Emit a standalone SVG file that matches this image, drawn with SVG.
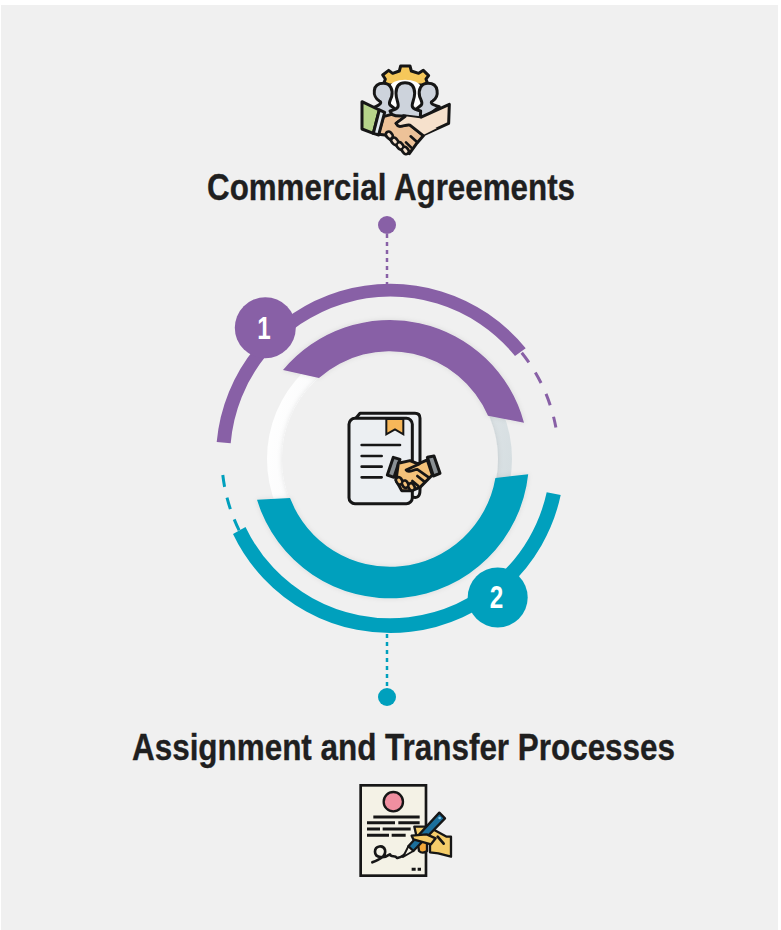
<svg xmlns="http://www.w3.org/2000/svg" width="781" height="930" viewBox="0 0 781 930">
<style>
.title{font-family:"Liberation Sans",Arial,sans-serif;font-weight:700;font-size:36px;fill:#1f1f1f;stroke:#1f1f1f;stroke-width:.35}
.num{font-family:"Liberation Sans",Arial,sans-serif;font-weight:700;font-size:31px;fill:#fff;text-anchor:middle}
.p{fill:#8860a6}.t{fill:#00a0bd}
.dashp{fill:none;stroke:#8860a6;stroke-width:3}
.dasht{fill:none;stroke:#00a0bd;stroke-width:3}
.dotp{fill:none;stroke:#8860a6;stroke-width:2.5}
.dott{fill:none;stroke:#00a0bd;stroke-width:2.5}
.k{stroke:#161616;stroke-width:9;stroke-linejoin:round;stroke-linecap:round}
.l{fill:none;stroke:#161616;stroke-width:8;stroke-linecap:round;stroke-linejoin:round}
.cap{fill:none;stroke:#161616;stroke-width:25;stroke-linecap:round}
</style>
<defs>
<linearGradient id="ring" x1="0" y1="0.3" x2="1" y2="0.5"><stop offset="0" stop-color="#ffffff"/><stop offset="0.45" stop-color="#f4f5f6"/><stop offset="1" stop-color="#d6dee1"/></linearGradient>
<filter id="soft" x="-20%" y="-20%" width="140%" height="140%"><feDropShadow dx="0" dy="0" stdDeviation="2.5" flood-color="#000" flood-opacity="0.1"/></filter>
</defs>
<rect width="781" height="930" fill="#ffffff"/>
<rect x="1" y="5" width="777" height="925" fill="#f0f0f0"/>

<g id="connectors">
<path class="dotp" stroke-dasharray="4 4" d="M387 234V284"/>
<path class="dott" stroke-dasharray="4 4" d="M387 634V688"/>
<path class="dashp" stroke-dasharray="12 12" d="M521.7 352.7A168 168 0 0 1 555.9 427.6"/>
<path class="dasht" stroke-dasharray="12 11" d="M222.8 475A168 168 0 0 0 241 534"/>
</g>

<g id="center-ring">
<circle cx="389.5" cy="459" r="122.5" fill="url(#ring)"/>
<circle cx="390" cy="459" r="108" fill="#f0f0f0" filter="url(#soft)"/>
<path class="p" filter="url(#soft)" d="M283 370A139 139 0 0 1 524 422.7L488 415.7A107 107 0 0 0 319 378Z"/>
<path class="t" filter="url(#soft)" d="M528.2 474.3A139 139 0 0 1 257 499.7L290 498A107 107 0 0 0 495.4 478Z"/>
</g>

<g id="node-1">
<path class="p" d="M216.7 442A174.3 174.3 0 0 1 525.7 348.3L515 356A160.3 160.3 0 0 0 230.7 443.3Z"/>
<circle class="p" cx="265.3" cy="327.8" r="30.5"/>
<text class="num" x="264" y="339.3" textLength="13.5" lengthAdjust="spacingAndGlyphs">1</text>
<circle class="p" cx="387" cy="225" r="9"/>
</g>

<g id="node-2">
<path class="t" d="M560.7 495A174.3 174.3 0 0 1 233 534L245.5 527A160.3 160.3 0 0 0 546.7 492.3Z"/>
<circle class="t" cx="497.7" cy="597.5" r="30"/>
<text class="num" x="496.5" y="608.3" textLength="13.5" lengthAdjust="spacingAndGlyphs">2</text>
<circle class="t" cx="387" cy="697" r="9"/>
</g>

<g id="icon-top" transform="translate(340 55) scale(.3333)">
<path class="k" fill="#f5c75a" d="M130 90L136 72L128 60L146 46L158 55L178 48L182 33H210L214 48L236 55L250 46L266 62L258 72L264 90Z"/>
<path fill="#fff" d="M140 152C152 140 152 120 148 100C150 66 240 66 244 100C240 120 240 140 252 152Z"/>
<path class="k" fill="#cdd3dc" d="M122 180L100 158C124 148 126 142 118 138C96 125 96 85 130 85C152 85 160 105 155 125C150 138 145 142 150 150L175 170L150 195Z"/>
<path class="k" fill="#cdd3dc" d="M272 175L298 155C272 148 270 142 278 138C298 125 298 85 264 85C242 85 234 105 239 125C244 138 249 142 244 150L220 170L250 195Z"/>
<path class="k" fill="#cdd3dc" d="M150 168C192 158 168 145 168 115C168 92 178 83 195 83C212 83 224 92 224 115C224 145 198 158 242 168L240 205H170Z"/>
<path class="k" fill="#f6e1cc" d="M328 148L326 205L250 240L205 205L190 182L240 188Z"/>
<path class="k" fill="#edc298" d="M130 185L155 178C170 186 182 182 196 184L168 205C178 224 196 206 210 210L250 242L228 268L208 296L190 290L135 240L115 238Z"/>
<path fill="#f6e1cc" d="M196 184L168 205C178 224 196 206 210 210L250 240L290 220L240 190Z"/>
<path class="l" d="M196 184L168 205C178 224 196 206 210 210L250 242M212 244L232 262M198 262L214 278"/>
<path class="cap" d="M146 238L150 243M162 256L166 261M178 270L182 275M194 284L198 289"/>
<path fill="none" stroke="#f6e1cc" stroke-width="9" stroke-linecap="round" d="M146 238L150 243M162 256L166 261M178 270L182 275M194 284L198 289"/>
<path class="k" fill="#b6d48a" d="M66 140L118 165L100 235L66 222Z"/>
<path class="k" fill="#dfe8ee" d="M118 165L134 172L116 240L100 235Z"/>
</g>

<g id="icon-center" transform="translate(330 400) scale(.3333)">
<path class="k" fill="#eceff2" d="M75 58L90 40H255Q270 40 270 55V270Q270 300 245 290H80Z"/>
<rect class="k" fill="#eceff2" x="57" y="55" width="190" height="256" rx="18"/>
<path fill="#f7b759" stroke="#161616" stroke-width="6" d="M169 57H220V103L195 88L169 103Z"/>
<path class="l" d="M95 135H210M95 168H155M95 200H155M95 232H155"/>
<path class="k" fill="#8a9094" d="M172 225L190 172L210 178L192 232Z"/>
<path class="k" fill="#8a9094" d="M292 172L312 168L330 220L310 228Z"/>
<path class="k" fill="#f4c27a" d="M205 190L240 182L265 192L292 180L307 225L270 262L245 272H215L198 240Z"/>
<path class="l" d="M268 192L228 210C236 222 250 208 262 208L296 232M262 228L283 245M247 243L265 258"/>
<path class="cap" d="M206 240L209 245M224 250L227 255M243 258L246 263"/>
<path fill="none" stroke="#f4c27a" stroke-width="9" stroke-linecap="round" d="M206 240L209 245M224 250L227 255M243 258L246 263"/>
</g>

<g id="icon-bottom" transform="translate(345 775) scale(.3333)">
<rect x="47" y="31" width="196" height="271" fill="#f4f2e6" stroke="#161616" stroke-width="8"/>
<circle cx="145" cy="80" r="29" fill="#f08fa0" stroke="#161616" stroke-width="7"/>
<path fill="none" stroke="#161616" stroke-width="9" d="M85 126H224M66 143H150M160 143H224M66 162H105M113 162H197M66 181H132M140 181H182"/>
<path fill="none" stroke="#161616" stroke-width="8" stroke-linecap="round" stroke-linejoin="round" d="M82 262C100 255 125 245 120 225C115 208 90 212 90 230C90 250 120 250 135 238C138 248 150 240 155 248C165 252 175 240 185 235"/>
<path fill="none" stroke="#161616" stroke-width="9" d="M200 283H212M218 283H228"/>
<path fill="#f5a93a" stroke="#161616" stroke-width="7" stroke-linejoin="round" d="M218 200H246V228Q232 238 222 228Z"/>
<path fill="#f5cd6a" stroke="#161616" stroke-width="7" stroke-linejoin="round" d="M208 155H240L268 165L305 185H318V245L280 235L255 232V190L215 185Z"/>
<path fill="#1c6f9c" stroke="#161616" stroke-width="7" stroke-linejoin="round" d="M283 113L300 130L205 228L190 214Z"/>
<path fill="#f4f2e6" stroke="#161616" stroke-width="6" stroke-linejoin="round" d="M190 214L205 228L174 246Z"/>
<circle cx="284" cy="129" r="4" fill="#7cc6e8"/>
<path fill="#f5cd6a" stroke="#161616" stroke-width="7" stroke-linejoin="round" d="M200 182L245 178L272 190L258 208L205 193Z"/>
<path class="l" d="M278 185L296 206"/>
</g>

<g id="titles">
<text class="title" x="207" y="200" textLength="368" lengthAdjust="spacingAndGlyphs">Commercial Agreements</text>
<text class="title" x="132" y="759.5" textLength="543" lengthAdjust="spacingAndGlyphs">Assignment and Transfer Processes</text>
</g>
</svg>
